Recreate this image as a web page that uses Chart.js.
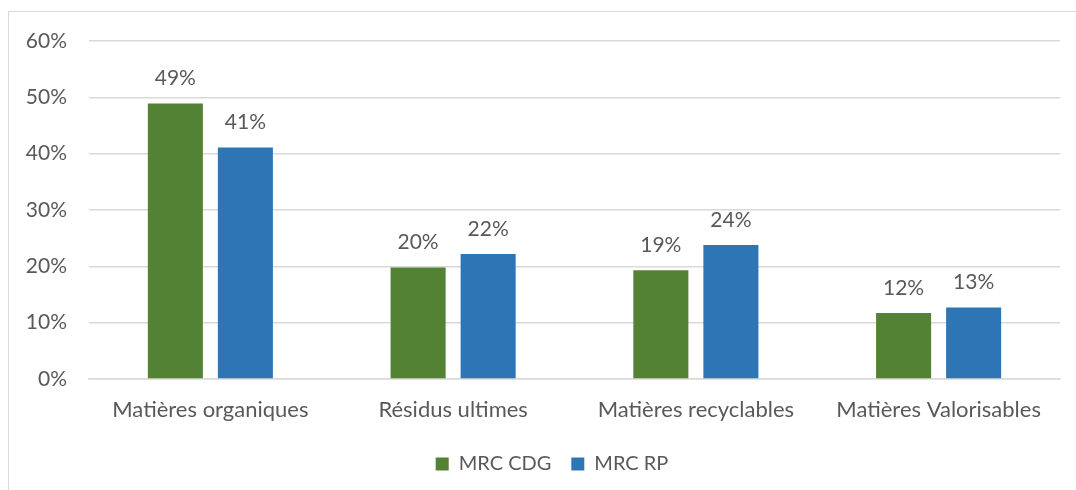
<!DOCTYPE html>
<html><head><meta charset="utf-8">
<script src="https://cdn.jsdelivr.net/npm/chart.js@4"></script>
<style>
html,body{margin:0;padding:0;background:#fff;}
#wrap{position:relative;width:1076px;height:490px;overflow:hidden;}
#frame{position:absolute;left:8px;top:11px;width:1100px;height:500px;border:1.5px solid #d9d9d9;box-sizing:border-box;}
#c{position:absolute;left:0;top:0;}
</style></head>
<body><div id="wrap"><div id="frame"></div><canvas id="c" width="1076" height="490"></canvas></div>
<script>
const categories = ["Matières organiques", "Résidus ultimes", "Matières recyclables", "Matières Valorisables"];
const seriesNames = ["MRC CDG", "MRC RP"];
const mrcCdg = [48.9, 19.8, 19.3, 11.7];
const mrcRp = [41.1, 22.2, 23.8, 12.7];
const yTicks = [0, 10, 20, 30, 40, 50, 60];
const colors = ["#548235", "#2E75B6"];

const FONT = "Lato";
const TXT = "#595959";

const dataLabels = {
  id: "dataLabels",
  afterDatasetsDraw(chart) {
    const ctx = chart.ctx;
    ctx.save();
    ctx.font = "21px " + FONT;
    ctx.fillStyle = TXT;
    ctx.textAlign = "center";
    ctx.textBaseline = "middle";
    chart.data.datasets.forEach((ds, i) => {
      chart.getDatasetMeta(i).data.forEach((bar, j) => {
        ctx.fillText(Math.round(ds.data[j]) + "%", bar.x, bar.y - 25);
      });
    });
    ctx.restore();
  }
};

const legendShift = {
  id: "legendShift",
  afterLayout(chart) {
    if (chart.legend) { chart.legend.left += 22; chart.legend.right += 22; }
  }
};

new Chart(document.getElementById("c"), {
  type: "bar",
  data: {
    labels: categories,
    datasets: [
      { label: seriesNames[0], data: mrcCdg, backgroundColor: colors[0] },
      { label: seriesNames[1], data: mrcRp, backgroundColor: colors[1] }
    ]
  },
  options: {
    responsive: false,
    animation: false,
    devicePixelRatio: 1,
    categoryPercentage: 0.577,
    barPercentage: 0.786,
    layout: { padding: { left: 0, right: 16, top: 41, bottom: 6 } },
    plugins: {
      legend: {
        position: "bottom",
        labels: {
          font: { family: FONT, size: 20 },
          color: TXT,
          boxWidth: 13,
          boxHeight: 13,
          padding: 20
        }
      },
      tooltip: { enabled: false }
    },
    scales: {
      y: {
        min: 0, max: 60,
        afterBuildTicks(axis) { axis.ticks = yTicks.map(v => ({ value: v })); },
        afterFit(axis) { axis.width = 89; },
        ticks: { callback: v => v + "%", font: { family: FONT, size: 21 }, color: TXT, padding: 22 },
        grid: { color: "#d9d9d9", lineWidth: 1.5, drawTicks: false },
        border: { display: false }
      },
      x: {
        afterFit(axis) { axis.height = 55; },
        ticks: { font: { family: FONT, size: 22 }, color: TXT, padding: 18 },
        grid: { display: false, drawTicks: false },
        border: { color: "#d9d9d9", width: 1.5 }
      }
    }
  },
  plugins: [dataLabels, legendShift]
});
</script></body></html>
